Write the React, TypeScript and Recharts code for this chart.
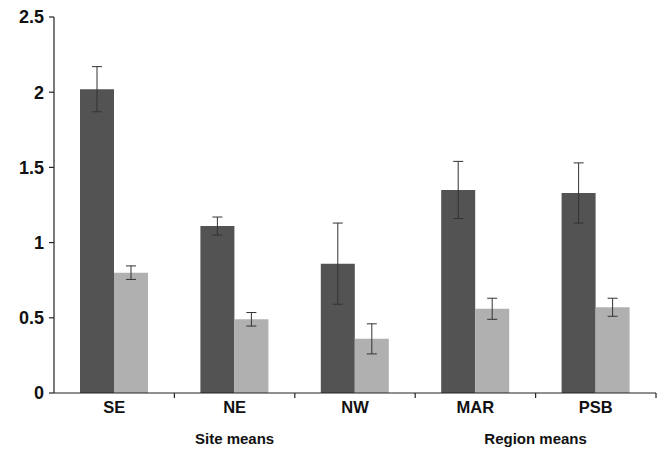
import React from "react";
import { BarChart, Bar, XAxis, YAxis, ErrorBar } from "recharts";

const categories = ["SE", "NE", "NW", "MAR", "PSB"];
const darkValues = [2.02, 1.11, 0.86, 1.35, 1.33];
const darkErrors = [0.15, 0.06, 0.27, 0.19, 0.2];
const lightValues = [0.8, 0.49, 0.36, 0.56, 0.57];
const lightErrors = [0.045, 0.045, 0.1, 0.07, 0.06];
const yTicks = [0, 0.5, 1, 1.5, 2, 2.5];
const groups = [
  { label: "Site means", from: 0, to: 2 },
  { label: "Region means", from: 3, to: 4 },
];

const data = categories.map((name, i) => ({
  name,
  dark: darkValues[i],
  darkErr: darkErrors[i],
  light: lightValues[i],
  lightErr: lightErrors[i],
}));

const W = 665;
const H = 452;
const M = { top: 17, right: 9, left: 0, bottom: 0 };
const Y_AXIS_W = 54;
const X_AXIS_H = 59;
const PLOT_W = W - M.left - M.right - Y_AXIS_W;
const STEP = PLOT_W / categories.length;
const AXIS_Y = H - M.bottom - X_AXIS_H;
const FONT = "'Liberation Sans', Arial, sans-serif";

function CategoryTick(props: any) {
  const { x, index, payload } = props;
  const group = groups.find((g) => g.to === index);
  let groupX = 0;
  if (group) {
    groupX = x - ((group.to - group.from) * STEP) / 2;
  }
  return (
    <g>
      <line x1={x + STEP / 2} x2={x + STEP / 2} y1={AXIS_Y} y2={AXIS_Y + 5} stroke="#222" strokeWidth={1.2} />
      <text x={x} y={AXIS_Y + 20} textAnchor="middle" fontSize={16.5} fontWeight="bold" fill="#111" fontFamily={FONT}>
        {payload.value}
      </text>
      {group && (
        <text x={groupX} y={AXIS_Y + 51} textAnchor="middle" fontSize={15} fontWeight="bold" fill="#111" fontFamily={FONT}>
          {group.label}
        </text>
      )}
    </g>
  );
}

export default function App() {
  return (
    <div style={{ position: "absolute", left: 0, top: 0, width: W, height: H, background: "#fff" }}>
      <BarChart width={W} height={H} data={data} margin={M} barGap={0} barSize={34}>
        <XAxis
          dataKey="name"
          height={X_AXIS_H}
          axisLine={{ stroke: "#222", strokeWidth: 1.2 }}
          tickLine={false}
          tick={<CategoryTick />}
          interval={0}
        />
        <YAxis
          width={Y_AXIS_W}
          domain={[0, 2.5]}
          ticks={yTicks}
          interval={0}
          axisLine={{ stroke: "#222", strokeWidth: 1.2 }}
          tickLine={{ stroke: "#222", strokeWidth: 1.2 }}
          tickSize={5}
          tickMargin={5}
          tick={{ fontSize: 18, fontWeight: "bold", fill: "#111", fontFamily: FONT }}
        />
        <Bar dataKey="dark" fill="#535353" isAnimationActive={false}>
          <ErrorBar dataKey="darkErr" width={5} stroke="#333" strokeWidth={1} />
        </Bar>
        <Bar dataKey="light" fill="#b0b0b0" isAnimationActive={false}>
          <ErrorBar dataKey="lightErr" width={5} stroke="#333" strokeWidth={1} />
        </Bar>
      </BarChart>
    </div>
  );
}
